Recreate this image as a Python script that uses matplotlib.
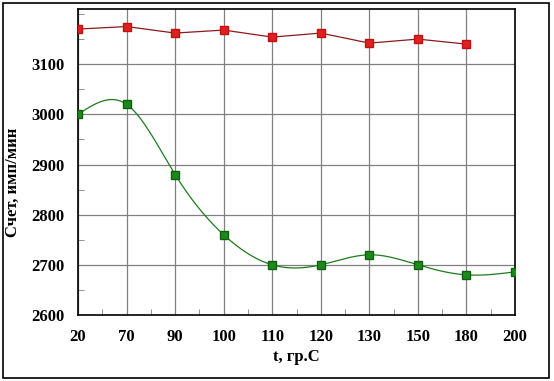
import matplotlib
matplotlib.use("Agg")
import matplotlib.pyplot as plt
import numpy as np
from matplotlib.ticker import MultipleLocator
from matplotlib.patches import Rectangle

# Данные
temps = ['20', '70', '90', '100', '110', '120', '130', '150', '180', '200']
red_counts = [3170, 3175, 3162, 3168, 3154, 3162, 3142, 3150, 3140]
green_counts = [3000, 3020, 2880, 2760, 2700, 2700, 2720, 2700, 2680, 2686]


def natural_spline(x, y, n=400):
    # естественный кубический сплайн для сглаженной линии
    x = np.asarray(x, float)
    y = np.asarray(y, float)
    k = len(x)
    h = np.diff(x)
    A = np.zeros((k, k))
    b = np.zeros(k)
    A[0, 0] = A[-1, -1] = 1
    for i in range(1, k - 1):
        A[i, i - 1] = h[i - 1]
        A[i, i] = 2 * (h[i - 1] + h[i])
        A[i, i + 1] = h[i]
        b[i] = 3 * ((y[i + 1] - y[i]) / h[i] - (y[i] - y[i - 1]) / h[i - 1])
    c = np.linalg.solve(A, b)
    xs = np.linspace(x[0], x[-1], n)
    idx = np.clip(np.searchsorted(x, xs) - 1, 0, k - 2)
    dx = xs - x[idx]
    bb = (y[1:] - y[:-1]) / h - h * (2 * c[:-1] + c[1:]) / 3
    d = (c[1:] - c[:-1]) / (3 * h)
    ys = y[idx] + bb[idx] * dx + c[idx] * dx ** 2 + d[idx] * dx ** 3
    return xs, ys


plt.rcParams['font.family'] = ['Liberation Serif', 'DejaVu Serif']
plt.rcParams['font.weight'] = 'bold'

fig = plt.figure(figsize=(5.54, 3.81), dpi=100)
ax = fig.add_axes([78 / 554, 1 - 315 / 381, (515 - 78) / 554, (315 - 9) / 381])

xr = np.arange(len(red_counts))
xg = np.arange(len(green_counts))

ax.plot(xr, red_counts, color='#8b1a1a', lw=0.9, zorder=3)
ax.plot(xr, red_counts, 's', color='#e02020', mec='#c01010', ms=5.5, zorder=4)

xs, ys = natural_spline(xg, green_counts)
ax.plot(xs, ys, color='#1f7a1f', lw=0.9, zorder=3)
ax.plot(xg, green_counts, 's', color='#1a8a1a', mec='#106010', ms=5.5, zorder=4)

ax.set_xlim(0, len(temps) - 1)
ax.set_ylim(2600, 3210)
ax.set_xticks(xg)
ax.set_xticklabels(temps)
ax.set_yticks([2600, 2700, 2800, 2900, 3000, 3100])
ax.xaxis.set_minor_locator(MultipleLocator(0.5))
ax.yaxis.set_minor_locator(MultipleLocator(50))

ax.grid(True, which='major', color='#808080', lw=0.9)
ax.tick_params(which='major', length=0, labelsize=12, pad=10)
ax.tick_params(which='minor', direction='in', length=4, color='#808080')
for s in ax.spines.values():
    s.set_linewidth(1.2)
    s.set_color('black')

ax.set_xlabel('t, гр.С', fontsize=12, fontweight='bold', labelpad=3)
ax.set_ylabel('Счет, имп/мин', fontsize=12, fontweight='bold')
ax.yaxis.set_label_coords(-0.13, 0.435)

fig.patches.append(Rectangle((3 / 554, 3 / 381), 546 / 554, 375 / 381,
                             transform=fig.transFigure, fill=False,
                             edgecolor='black', lw=1.2))

fig.savefig('out.png', dpi=100)
